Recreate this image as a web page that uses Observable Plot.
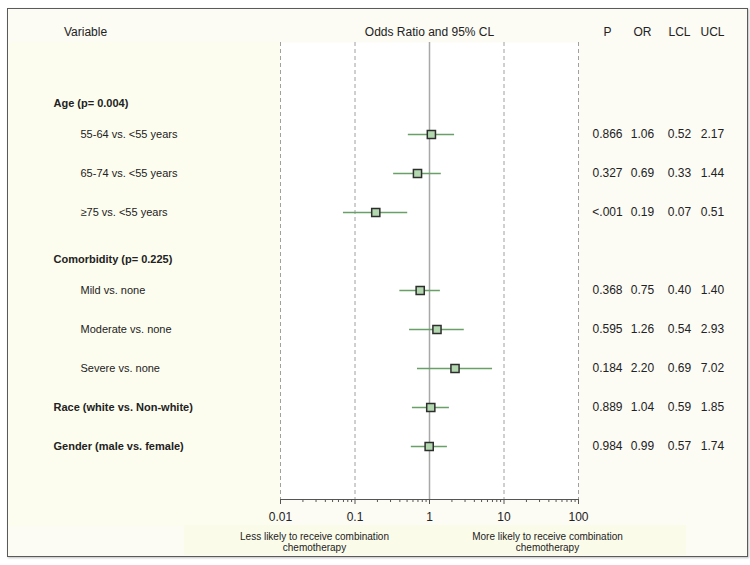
<!DOCTYPE html>
<html>
<head>
<meta charset="utf-8">
<script src="https://cdn.jsdelivr.net/npm/d3@7"></script>
<script src="https://cdn.jsdelivr.net/npm/@observablehq/plot@0.6"></script>
<style>
  body { margin: 0; background: #ffffff; }
  #wrap { position: relative; width: 750px; height: 565px; background: #ffffff; overflow: hidden; }
  #border { position: absolute; left: 7px; top: 8px; width: 739px; height: 547px; border: 1.5px solid #5a5a5a; background: #fcfbf4; box-shadow: 1px 1px 2px rgba(0,0,0,0.25); }
  #leftpanel { position: absolute; left: 9px; top: 42px; width: 271px; height: 484px; background: #fdfdef; }
  #footbox { position: absolute; left: 184px; top: 525px; width: 502px; height: 30px; background: #fbfbea; }
  #chart { position: absolute; left: 0; top: 0; }
</style>
</head>
<body>
<div id="wrap">
  <div id="border"></div>
  <div id="leftpanel"></div>
  <div id="footbox"></div>
  <div id="chart"></div>
</div>
<script>
// ---- data ----
const rowLabels = [
  "Age (p= 0.004)",
  "55-64 vs. <55 years",
  "65-74 vs. <55 years",
  "≥75 vs. <55 years",
  "Comorbidity (p= 0.225)",
  "Mild vs. none",
  "Moderate vs. none",
  "Severe vs. none",
  "Race (white vs. Non-white)",
  "Gender (male vs. female)"
];
const groupHeaders = ["Age (p= 0.004)", "Comorbidity (p= 0.225)"];
const boldRows = ["Race (white vs. Non-white)", "Gender (male vs. female)"];
const subRows = ["55-64 vs. <55 years", "65-74 vs. <55 years", "≥75 vs. <55 years",
                 "Mild vs. none", "Moderate vs. none", "Severe vs. none"];

const estLabels = ["55-64 vs. <55 years", "65-74 vs. <55 years", "≥75 vs. <55 years",
                   "Mild vs. none", "Moderate vs. none", "Severe vs. none",
                   "Race (white vs. Non-white)", "Gender (male vs. female)"];
const pValues  = ["0.866", "0.327", "<.001", "0.368", "0.595", "0.184", "0.889", "0.984"];
const oddsRatio = [1.06, 0.69, 0.19, 0.75, 1.26, 2.20, 1.04, 0.99];
const lowerCL   = [0.52, 0.33, 0.07, 0.40, 0.54, 0.69, 0.59, 0.57];
const upperCL   = [2.17, 1.44, 0.51, 1.40, 2.93, 7.02, 1.85, 1.74];

const xTicks = [0.01, 0.1, 1, 10, 100];
const xTickLabels = ["0.01", "0.1", "1", "10", "100"];
const headerVariable = "Variable";
const headerPlot = "Odds Ratio and 95% CL";
const statHeaders = ["P", "OR", "LCL", "UCL"];
const footLeft = "Less likely to receive combination\nchemotherapy";
const footRight = "More likely to receive combination\nchemotherapy";

// ---- build table ----
const f2 = d3.format(".2f");
const est = estLabels.map((label, i) => ({
  label, p: pValues[i], or: oddsRatio[i], lcl: lowerCL[i], ucl: upperCL[i]
}));
const statCols = [
  {name: "P",   text: d => d.p,        dx: 29},
  {name: "OR",  text: d => f2(d.or),   dx: 64},
  {name: "LCL", text: d => f2(d.lcl),  dx: 101},
  {name: "UCL", text: d => f2(d.ucl),  dx: 134}
];
const minorTicks = d3.scaleLog().domain([0.01, 100]).ticks(10).filter(t => !xTicks.includes(t));

const textColor = "#222";
const plot = Plot.plot({
  width: 750,
  height: 565,
  marginLeft: 280,
  marginRight: 172,
  marginTop: 42,
  marginBottom: 66,
  style: {background: "transparent", fontFamily: "'Liberation Sans', Arial, sans-serif", fontSize: "12px", color: textColor},
  x: {type: "log", domain: [0.01, 100]},
  y: {type: "point", domain: rowLabels, range: [94, 447], padding: 0, axis: null},
  marks: [
    Plot.frame({fill: "white"}),
    Plot.ruleX(xTicks.filter(t => t !== 1), {stroke: "#a0a0a0", strokeDasharray: "4,3", strokeWidth: 1}),
    Plot.ruleX([1], {stroke: "#a8a8a8", strokeWidth: 1.5}),
    Plot.ruleY(est, {y: "label", x1: "lcl", x2: "ucl", stroke: "#68a068", strokeWidth: 1.3}),
    Plot.dot(est, {x: "or", y: "label", symbol: "square", r: 4.6, fill: "#b3d8b0", stroke: "#2e2e2e", strokeWidth: 1.5}),
    // axis
    Plot.frame({anchor: "bottom", stroke: "#555"}),
    Plot.axisX({ticks: minorTicks, tickSize: 3, text: null, stroke: "#555"}),
    Plot.axisX({ticks: xTicks, tickSize: 5, tickPadding: 8, tickFormat: (d, i) => xTickLabels[xTicks.indexOf(d)], label: null, stroke: "#555", fill: textColor, fontSize: 12}),
    // left labels
    Plot.text(groupHeaders, {y: d => d, text: d => d, frameAnchor: "left", dx: -227, dy: 8, textAnchor: "start", fontWeight: "bold", fontSize: 11, fill: textColor}),
    Plot.text(boldRows, {y: d => d, text: d => d, frameAnchor: "left", dx: -227, textAnchor: "start", fontWeight: "bold", fontSize: 11, fill: textColor}),
    Plot.text(subRows, {y: d => d, text: d => d, frameAnchor: "left", dx: -200, textAnchor: "start", fontSize: 11, fill: textColor}),
    // stat columns
    ...statCols.map(c => Plot.text(est, {y: "label", text: c.text, frameAnchor: "right", dx: c.dx, textAnchor: "middle", fontSize: 12, fill: textColor})),
    // headers
    Plot.text([headerVariable], {text: d => d, frameAnchor: "top-left", dx: -195, dy: -10, lineAnchor: "middle", textAnchor: "middle", fontSize: 12, fill: textColor}),
    Plot.text([headerPlot], {text: d => d, frameAnchor: "top", dy: -10, lineAnchor: "middle", textAnchor: "middle", fontSize: 12, fill: textColor}),
    ...statHeaders.map((h, i) => Plot.text([h], {text: d => d, frameAnchor: "top-right", dx: statCols[i].dx, dy: -10, lineAnchor: "middle", textAnchor: "middle", fontSize: 12, fill: textColor})),
    // footer
    Plot.text([footLeft], {text: d => d, frameAnchor: "bottom-left", dx: 34, dy: 33, lineAnchor: "top", lineHeight: 1.1, textAnchor: "middle", fontSize: 10, fill: textColor}),
    Plot.text([footRight], {text: d => d, frameAnchor: "bottom-left", dx: 267, dy: 33, lineAnchor: "top", lineHeight: 1.1, textAnchor: "middle", fontSize: 10, fill: textColor})
  ]
});
document.getElementById("chart").appendChild(plot);
</script>
</body>
</html>
